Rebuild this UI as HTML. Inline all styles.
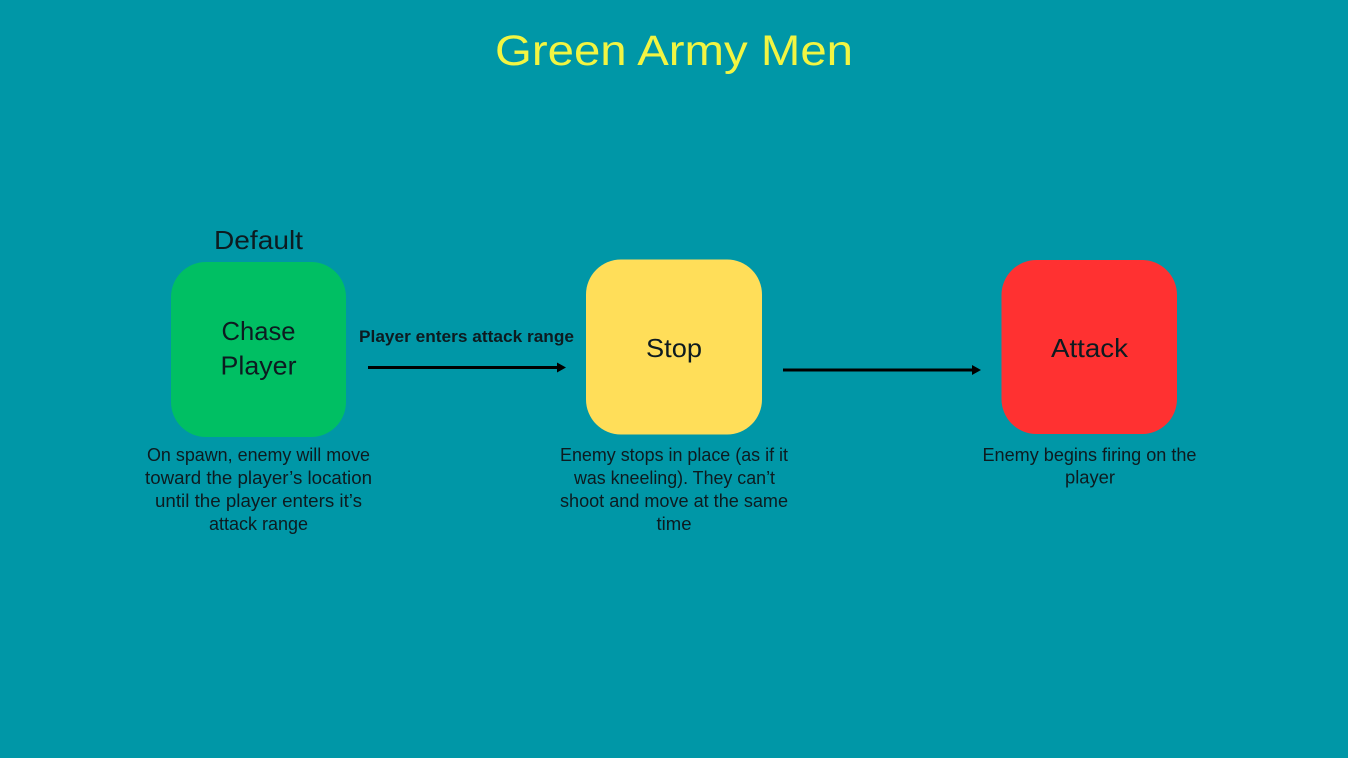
<!DOCTYPE html>
<html>
<head>
<meta charset="utf-8">
<style>
html,body{margin:0;padding:0;background:#0097a7;}
svg{display:block;}
text{font-family:"Liberation Sans",sans-serif;}
</style>
</head>
<body>
<svg width="1348" height="758" viewBox="0 0 1348 758" xmlns="http://www.w3.org/2000/svg">
<rect x="0" y="0" width="1348" height="758" fill="#0097a7"/>

<!-- Title -->
<text x="674" y="65" text-anchor="middle" font-size="43" fill="#f2f542" textLength="358" lengthAdjust="spacingAndGlyphs">Green Army Men</text>

<!-- Default label -->
<text x="258.5" y="249" text-anchor="middle" font-size="26" fill="#0d1b20" textLength="89" lengthAdjust="spacingAndGlyphs">Default</text>

<!-- Boxes -->
<rect x="171" y="262" width="175" height="175" rx="35" ry="35" fill="#00bf63"/>
<rect x="586" y="259.5" width="176" height="175" rx="35" ry="35" fill="#ffde59"/>
<rect x="1001.5" y="260" width="175.5" height="174" rx="35" ry="35" fill="#ff3131"/>

<!-- Box labels -->
<text x="258.5" y="340" text-anchor="middle" font-size="26" fill="#0d1b20" textLength="74" lengthAdjust="spacingAndGlyphs">Chase</text>
<text x="258.5" y="374.5" text-anchor="middle" font-size="26" fill="#0d1b20" textLength="76" lengthAdjust="spacingAndGlyphs">Player</text>
<text x="674" y="357" text-anchor="middle" font-size="26" fill="#0d1b20" textLength="56" lengthAdjust="spacingAndGlyphs">Stop</text>
<text x="1089.5" y="357" text-anchor="middle" font-size="26" fill="#0d1b20" textLength="77" lengthAdjust="spacingAndGlyphs">Attack</text>

<!-- Connector label -->
<text x="466.5" y="342" text-anchor="middle" font-size="17" font-weight="bold" fill="#0d1b20" textLength="215" lengthAdjust="spacingAndGlyphs">Player enters attack range</text>

<!-- Arrows -->
<line x1="368" y1="367.5" x2="558" y2="367.5" stroke="#000" stroke-width="3"/>
<polygon points="557,362.5 566,367.5 557,372.5" fill="#000"/>
<line x1="783" y1="370" x2="973" y2="370" stroke="#000" stroke-width="3"/>
<polygon points="972,365 981,370 972,375" fill="#000"/>

<!-- Chase description -->
<g font-size="18" fill="#0d1b20" text-anchor="middle">
<text x="258.5" y="461" textLength="223" lengthAdjust="spacingAndGlyphs">On spawn, enemy will move</text>
<text x="258.5" y="484" textLength="227" lengthAdjust="spacingAndGlyphs">toward the player’s location</text>
<text x="258.5" y="507" textLength="207" lengthAdjust="spacingAndGlyphs">until the player enters it’s</text>
<text x="258.5" y="530" textLength="99" lengthAdjust="spacingAndGlyphs">attack range</text>

<text x="674" y="461" textLength="228" lengthAdjust="spacingAndGlyphs">Enemy stops in place (as if it</text>
<text x="674.5" y="484" textLength="201" lengthAdjust="spacingAndGlyphs">was kneeling). They can’t</text>
<text x="674" y="507" textLength="228" lengthAdjust="spacingAndGlyphs">shoot and move at the same</text>
<text x="674" y="530" textLength="35" lengthAdjust="spacingAndGlyphs">time</text>

<text x="1089.5" y="461" textLength="214" lengthAdjust="spacingAndGlyphs">Enemy begins firing on the</text>
<text x="1090" y="483.5" textLength="50" lengthAdjust="spacingAndGlyphs">player</text>
</g>
</svg>
</body>
</html>
